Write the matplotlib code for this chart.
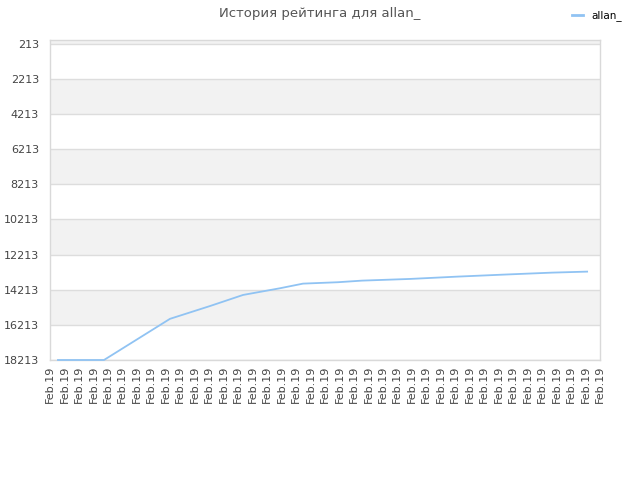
import numpy as np
import matplotlib.pyplot as plt

plt.rcParams['font.family'] = ['DejaVu Sans']

# данные
x_pos = [0.55, 3.73, 8.29, 11.06, 13.34, 15.9, 17.48, 19.9, 21.56, 24.88, 28.13, 31.31, 34.69, 37.11]
rating = [18213, 18213, 15870, 15140, 14510, 14128, 13866, 13786, 13695, 13599, 13468, 13354, 13240, 13183]
tick_labels = ['Feb.19'] * 39
y_ticks = [213, 2213, 4213, 6213, 8213, 10213, 12213, 14213, 16213, 18213]

fig = plt.figure(figsize=(6.4, 4.8), dpi=100)
ax = fig.add_axes([50 / 640, 120 / 480, 550 / 640, 320 / 480])

# серые полосы
bands = [(0, 213), (2213, 4213), (6213, 8213), (10213, 12213), (14213, 16213)]
for lo, hi in bands:
    ax.axhspan(lo, hi, color='#f2f2f2', lw=0, zorder=0)
for yv in y_ticks:
    ax.axhline(yv, color='#dddddd', lw=1, zorder=1)

ax.plot(x_pos, rating, color='#90c3f3', lw=1.3, label='allan_', zorder=5, clip_on=False)

ax.set_xlim(0, 38)
ax.set_ylim(18213, 0)
ax.set_xticks(np.arange(39))
ax.set_xticklabels(tick_labels, rotation=90, fontsize=8, color='#444444')
ax.set_yticks(y_ticks)
ax.set_yticklabels([str(v) for v in y_ticks], fontsize=8, color='#444444')
ax.tick_params(length=0, pad=8)
ax.tick_params(axis='x', pad=4)
for s in ax.spines.values():
    s.set_color('#d9d9d9')
    s.set_linewidth(1)
    s.set_zorder(2)

fig.text(0.5, 1 - 13 / 480, 'История рейтинга для allan_', ha='center', va='center',
         fontsize=9.5, color='#555555')
leg = fig.legend(loc='center', bbox_to_anchor=(597 / 640, 1 - 16 / 480), frameon=False,
                 fontsize=7.5, handlelength=1, handletextpad=0.8)
for h in leg.get_lines():
    h.set_linewidth(2)

fig.savefig('out.png', dpi=100)
plt.close(fig)
